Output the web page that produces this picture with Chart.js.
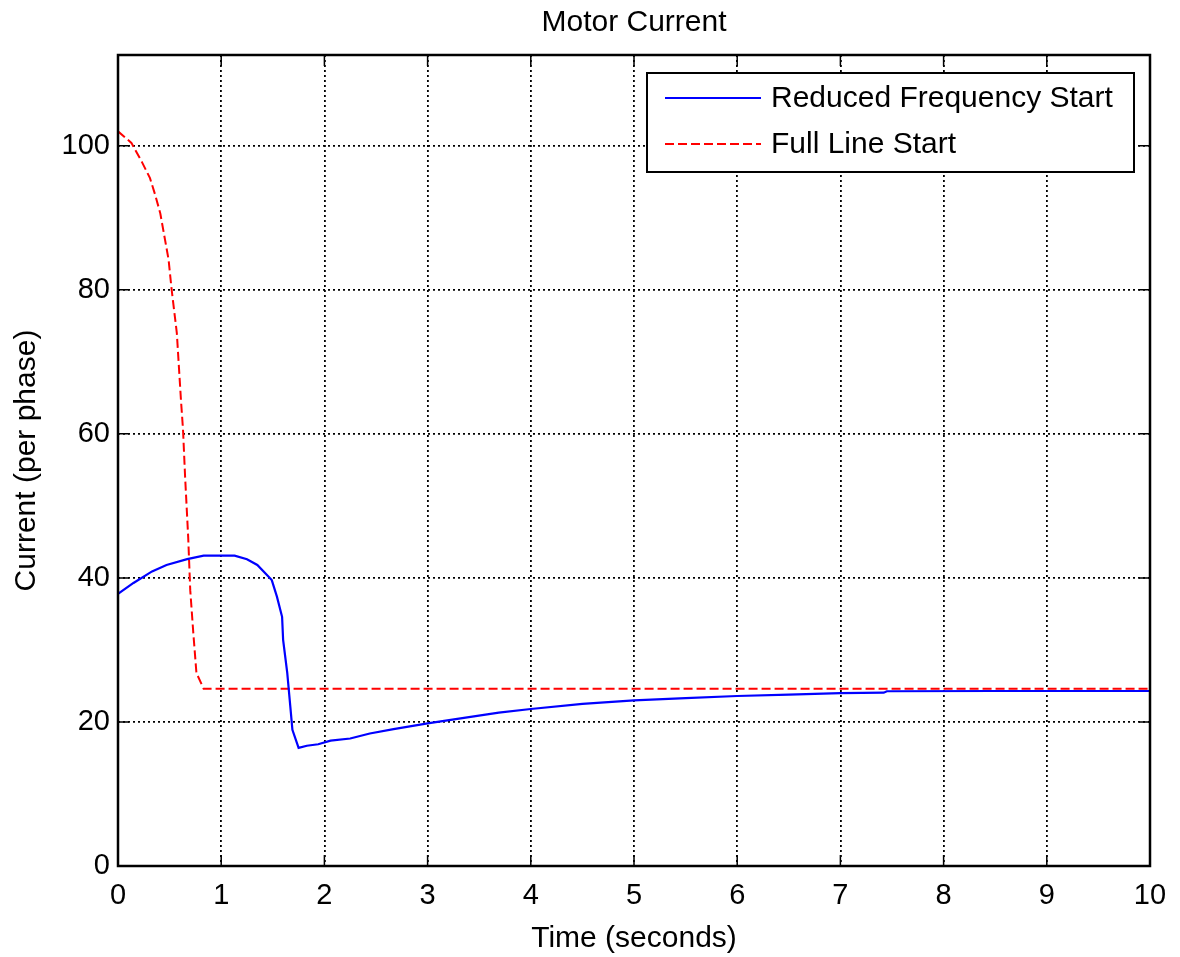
<!DOCTYPE html>
<html>
<head>
<meta charset="utf-8">
<title>Motor Current</title>
<script src="https://cdn.jsdelivr.net/npm/chart.js@4.4.0/dist/chart.umd.min.js"></script>
<style>
  html, body { margin: 0; padding: 0; background: #fff; }
</style>
</head>
<body>
<canvas id="chart" width="1180" height="957"></canvas>
<script>
// values
const blueTime = [0, 0.15, 0.33, 0.47, 0.67, 0.83, 1.13, 1.25, 1.35, 1.49, 1.54, 1.59, 1.60, 1.64, 1.67, 1.69, 1.75, 1.83, 1.94, 2.06, 2.25, 2.44, 2.67, 3.0, 3.32, 3.69, 4.0, 4.5, 5.0, 5.5, 6.0, 6.5, 7.0, 7.42, 7.45, 8.5, 10];
const blueCurrent = [37.8, 39.3, 40.9, 41.8, 42.6, 43.1, 43.1, 42.6, 41.8, 39.7, 37.4, 34.6, 31.4, 26.8, 22.1, 18.9, 16.4, 16.7, 16.9, 17.4, 17.7, 18.4, 19.0, 19.8, 20.5, 21.3, 21.8, 22.5, 23.0, 23.3, 23.6, 23.8, 24.0, 24.07, 24.26, 24.3, 24.3];

const redTime = [0, 0.13, 0.23, 0.31, 0.36, 0.41, 0.45, 0.49, 0.52, 0.57, 0.61, 0.63, 0.65, 0.68, 0.70, 0.73, 0.76, 0.83, 10];
const redCurrent = [102.0, 100.4, 97.8, 95.5, 93.2, 90.6, 87.4, 84.2, 80.0, 74.0, 64.7, 60.6, 54.1, 45.7, 38.3, 32.3, 26.8, 24.6, 24.6];

const xTicks = [0, 1, 2, 3, 4, 5, 6, 7, 8, 9, 10];
const yTicks = [0, 20, 40, 60, 80, 100];

const seriesNames = ['Reduced Frequency Start', 'Full Line Start'];

const FONT = "Arial, 'Liberation Sans', Helvetica, sans-serif";
const tickFont = { family: FONT, size: 29, weight: 'normal' };
const labelFont = { family: FONT, size: 30, weight: 'normal' };

function toPoints(xs, ys) {
    return xs.map((x, i) => ({ x: x, y: ys[i] }));
}

// matlab style box around the axes, inward tick marks and boxed legend
const matlabBox = {
    id: 'matlabBox',
    afterDraw(chart) {
        const ctx = chart.ctx;
        const a = chart.chartArea;
        const xs = chart.scales.x;
        const ys = chart.scales.y;
        ctx.save();
        ctx.strokeStyle = '#000';
        ctx.setLineDash([]);

        // tick marks
        ctx.lineWidth = 1.5;
        ctx.beginPath();
        xTicks.forEach(v => {
            const px = xs.getPixelForValue(v);
            ctx.moveTo(px, a.bottom); ctx.lineTo(px, a.bottom - 11);
            ctx.moveTo(px, a.top); ctx.lineTo(px, a.top + 11);
        });
        yTicks.forEach(v => {
            const py = ys.getPixelForValue(v);
            ctx.moveTo(a.left, py); ctx.lineTo(a.left + 11, py);
            ctx.moveTo(a.right, py); ctx.lineTo(a.right - 11, py);
        });
        ctx.stroke();

        // frame
        ctx.lineWidth = 2.5;
        ctx.strokeRect(a.left, a.top, a.right - a.left, a.bottom - a.top);

        // legend
        const lx = 647, ly = 73, lw = 487, lh = 99;
        ctx.fillStyle = '#fff';
        ctx.fillRect(lx, ly, lw, lh);
        ctx.lineWidth = 2;
        ctx.strokeRect(lx, ly, lw, lh);

        const rows = [98, 144];
        chart.data.datasets.forEach((ds, i) => {
            ctx.strokeStyle = ds.borderColor;
            ctx.lineWidth = 2;
            ctx.setLineDash(ds.borderDash || []);
            ctx.beginPath();
            ctx.moveTo(665, rows[i]);
            ctx.lineTo(761, rows[i]);
            ctx.stroke();
            ctx.setLineDash([]);
            ctx.fillStyle = '#000';
            ctx.font = '30px ' + FONT;
            ctx.textBaseline = 'middle';
            ctx.textAlign = 'left';
            ctx.fillText(ds.label, 771, rows[i] + 1);
        });
        ctx.restore();
    }
};

const ctx = document.getElementById('chart').getContext('2d');
const myChart = new Chart(ctx, {
    type: 'line',
    data: {
        datasets: [{
            label: seriesNames[0],
            data: toPoints(blueTime, blueCurrent),
            borderColor: '#0000ff',
            borderWidth: 2.2,
            pointRadius: 0,
            tension: 0,
            fill: false
        },
        {
            label: seriesNames[1],
            data: toPoints(redTime, redCurrent),
            borderColor: '#ff0000',
            borderWidth: 2,
            borderDash: [9, 4],
            pointRadius: 0,
            tension: 0,
            fill: false
        }]
    },
    options: {
        responsive: false,
        animation: false,
        devicePixelRatio: 1,
        layout: { padding: { left: 0, right: 30, top: 0, bottom: 0 } },
        plugins: {
            legend: { display: false },
            tooltip: { enabled: false },
            title: {
                display: true,
                fullSize: false,
                text: 'Motor Current',
                color: '#000',
                font: labelFont,
                padding: { top: 5, bottom: 14 }
            }
        },
        scales: {
            x: {
                type: 'linear',
                min: 0,
                max: 10,
                afterBuildTicks: s => { s.ticks = xTicks.map(v => ({ value: v })); },
                afterFit: s => { s.height = 91; },
                ticks: { color: '#000', font: tickFont, padding: 13, maxRotation: 0, autoSkip: false },
                grid: { color: '#000', lineWidth: 1.8, drawTicks: false },
                border: { display: false, dash: [2, 3] },
                title: { display: true, text: 'Time (seconds)', color: '#000', font: labelFont, padding: { top: 2, bottom: 0 } }
            },
            y: {
                type: 'linear',
                min: 0,
                max: 112.6,
                afterBuildTicks: s => { s.ticks = yTicks.map(v => ({ value: v })); },
                afterFit: s => { s.width = 118; },
                ticks: { color: '#000', font: tickFont, padding: 8 },
                grid: { color: '#000', lineWidth: 1.8, drawTicks: false },
                border: { display: false, dash: [2, 3] },
                title: { display: true, text: 'Current (per phase)', color: '#000', font: labelFont, padding: { top: 9, bottom: 0 } }
            }
        }
    },
    plugins: [matlabBox]
});
</script>
</body>
</html>
